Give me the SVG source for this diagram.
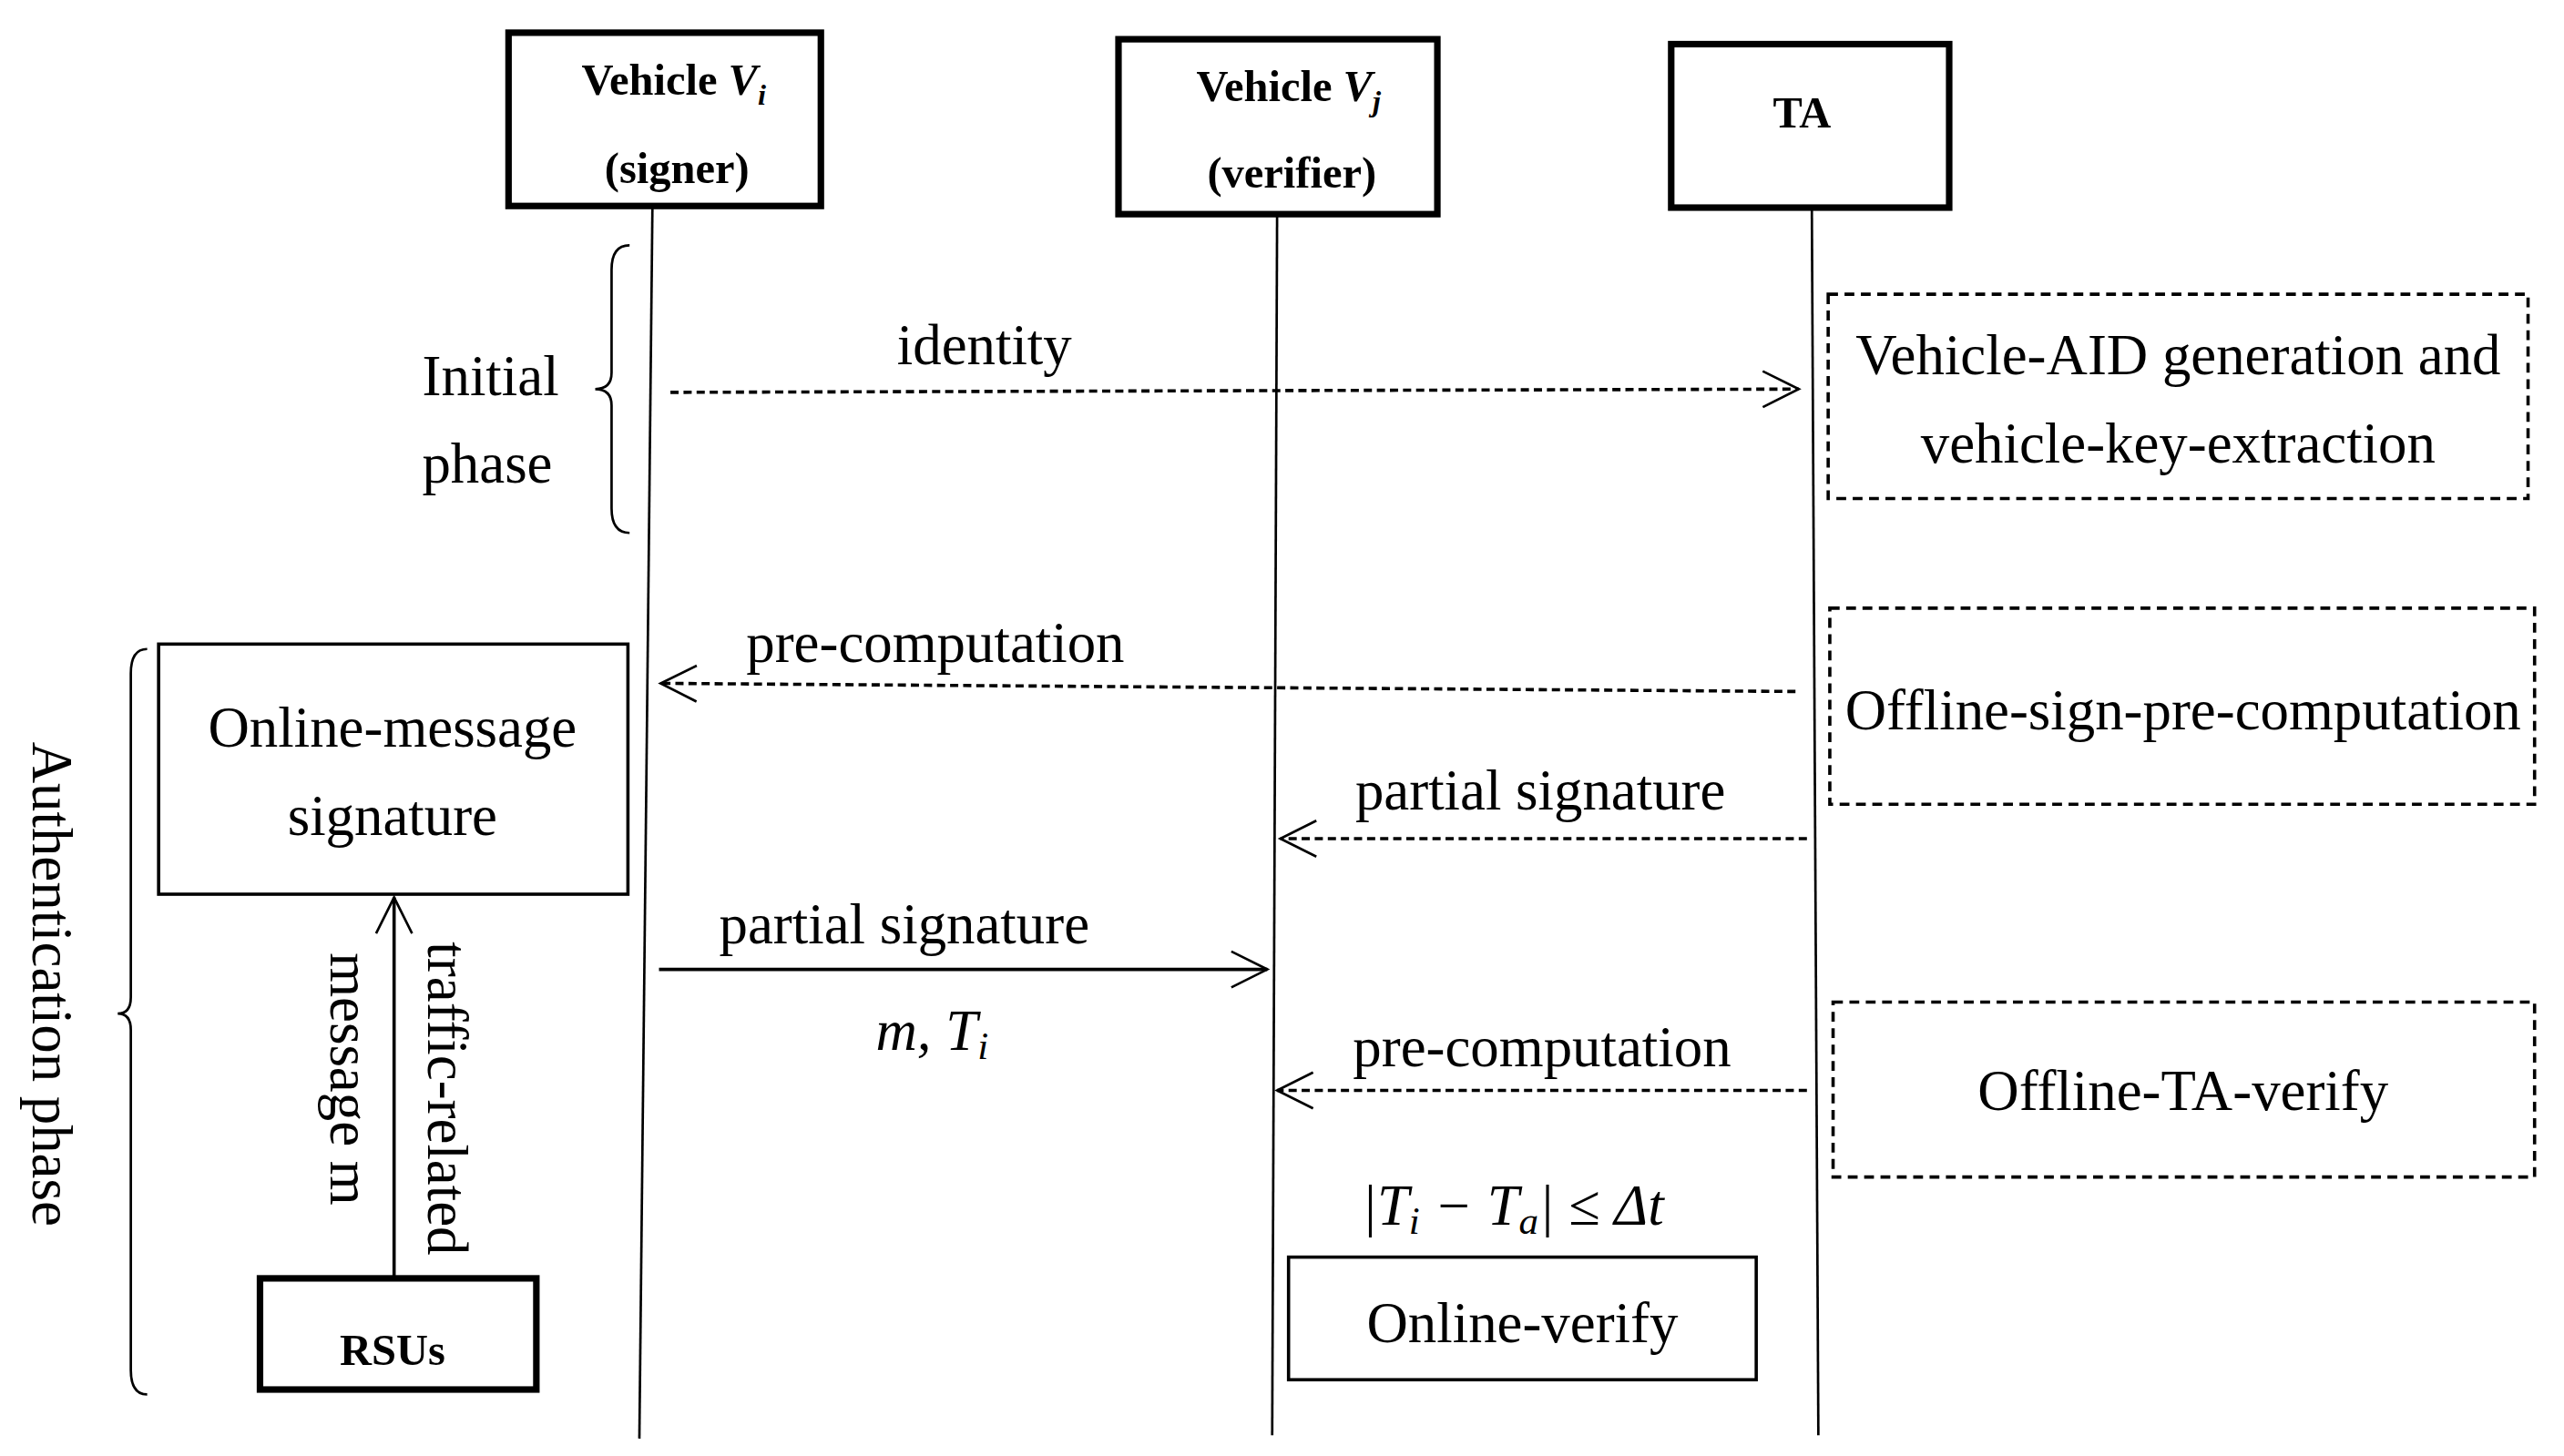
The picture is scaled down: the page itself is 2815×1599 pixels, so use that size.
<svg xmlns="http://www.w3.org/2000/svg" width="2815" height="1599" viewBox="0 0 2815 1599">
<defs>
<style>
text{font-family:"Liberation Serif","Times New Roman",serif;fill:#000}
.t{font-size:35px;text-anchor:middle}
.b{font-size:27px;font-weight:bold;text-anchor:middle}
.thick{fill:#fff;stroke:#000;stroke-width:4}
.thin{fill:#fff;stroke:#000;stroke-width:2}
.dbox{fill:none;stroke:#000;stroke-width:2;stroke-dasharray:6 4}
.life{stroke:#000;stroke-width:1.5;fill:none}
.dash{stroke:#000;stroke-width:2;stroke-dasharray:5 3;fill:none}
.sol{stroke:#000;stroke-width:2;fill:none}
.br{stroke:#000;stroke-width:1.5;fill:none}
</style>
<marker id="ah" markerWidth="26" markerHeight="26" refX="24" refY="13" orient="auto" markerUnits="userSpaceOnUse"><path d="M2,2 L24,13 L2,24" fill="none" stroke="#000" stroke-width="1.5"/></marker>
</defs>
<rect width="2815" height="1599" fill="#fff"/>
<g transform="scale(1.7953)">
<g id="connectors">
<path class="life" d="M399,126 L391,880"/>
<path class="life" d="M781,131 L778,878"/>
<path class="life" d="M1108,127 L1112,878"/>
<path class="dash" d="M410,240 L1100,238" marker-end="url(#ah)"/>
<path class="dash" d="M1098,423 L404,418" marker-end="url(#ah)"/>
<path class="dash" d="M1105,513 L783,513" marker-end="url(#ah)"/>
<path class="sol" d="M403,593 L775,593" marker-end="url(#ah)"/>
<path class="dash" d="M1105,667 L781,667" marker-end="url(#ah)"/>
<path class="sol" d="M241,782 L241,549" marker-end="url(#ah)"/>
<text class="t" x="602" y="223">identity</text>
<text class="t" x="572" y="405">pre-computation</text>
<text class="t" x="942" y="495">partial signature</text>
<text class="t" x="553" y="577">partial signature</text>
<text class="t" x="570" y="642" font-style="italic">m, T<tspan font-size="24" dy="6">i</tspan></text>
<text class="t" x="943" y="652">pre-computation</text>
<text class="t" transform="translate(262,672) rotate(90)">traffic-related</text>
<text class="t" transform="translate(202,660) rotate(90)">message m</text>
</g>
<g id="vi"><rect class="thick" x="311" y="20" width="191" height="106"/><text class="b" x="412" y="58">Vehicle <tspan font-style="italic">V</tspan><tspan font-style="italic" font-size="18" dy="6">i</tspan></text><text class="b" x="414" y="112">(signer)</text></g>
<g id="vj"><rect class="thick" x="684" y="24" width="195" height="107"/><text class="b" x="788" y="62">Vehicle <tspan font-style="italic">V</tspan><tspan font-style="italic" font-size="18" dy="6">j</tspan></text><text class="b" x="790" y="115">(verifier)</text></g>
<g id="ta"><rect class="thick" x="1022" y="27" width="170" height="100"/><text class="b" x="1102" y="78">TA</text></g>
<g id="initial"><path class="br" d="M385,150 Q374,150 374,165 L374,228 Q374,238 364,238 Q374,238 374,248 L374,311 Q374,326 385,326"/><text class="t" x="300" y="242">Initial</text><text class="t" x="298" y="295">phase</text></g>
<g id="auth"><path class="br" d="M90,397 Q80,397 80,412 L80,610 Q80,620 72,620 Q80,620 80,630 L80,838 Q80,853 90,853"/><text class="t" transform="translate(20,602) rotate(90)">Authentication phase</text></g>
<g id="box1"><rect class="dbox" x="1118" y="180" width="428" height="125"/><text class="t" x="1332" y="229">Vehicle-AID generation and</text><text class="t" x="1332" y="283">vehicle-key-extraction</text></g>
<g id="box2"><rect class="dbox" x="1119" y="372" width="431" height="120"/><text class="t" x="1335" y="446">Offline-sign-pre-computation</text></g>
<g id="box3"><rect class="dbox" x="1121" y="613" width="429" height="107"/><text class="t" x="1335" y="679">Offline-TA-verify</text></g>
<g id="online-sign"><rect class="thin" x="97" y="394" width="287" height="153"/><text class="t" x="240" y="457">Online-message</text><text class="t" x="240" y="511">signature</text></g>
<g id="rsus"><rect class="thick" x="159" y="782" width="169" height="68"/><text class="b" x="240" y="835">RSUs</text></g>
<g id="online-verify"><text class="t" x="925" y="749" font-style="italic">|T<tspan font-size="24" dy="6">i</tspan><tspan dy="-6"> − T</tspan><tspan font-size="24" dy="6">a</tspan><tspan dy="-6">| ≤ Δt</tspan></text><rect class="thin" x="788" y="769" width="286" height="75"/><text class="t" x="931" y="821">Online-verify</text></g>
</g>
</svg>
